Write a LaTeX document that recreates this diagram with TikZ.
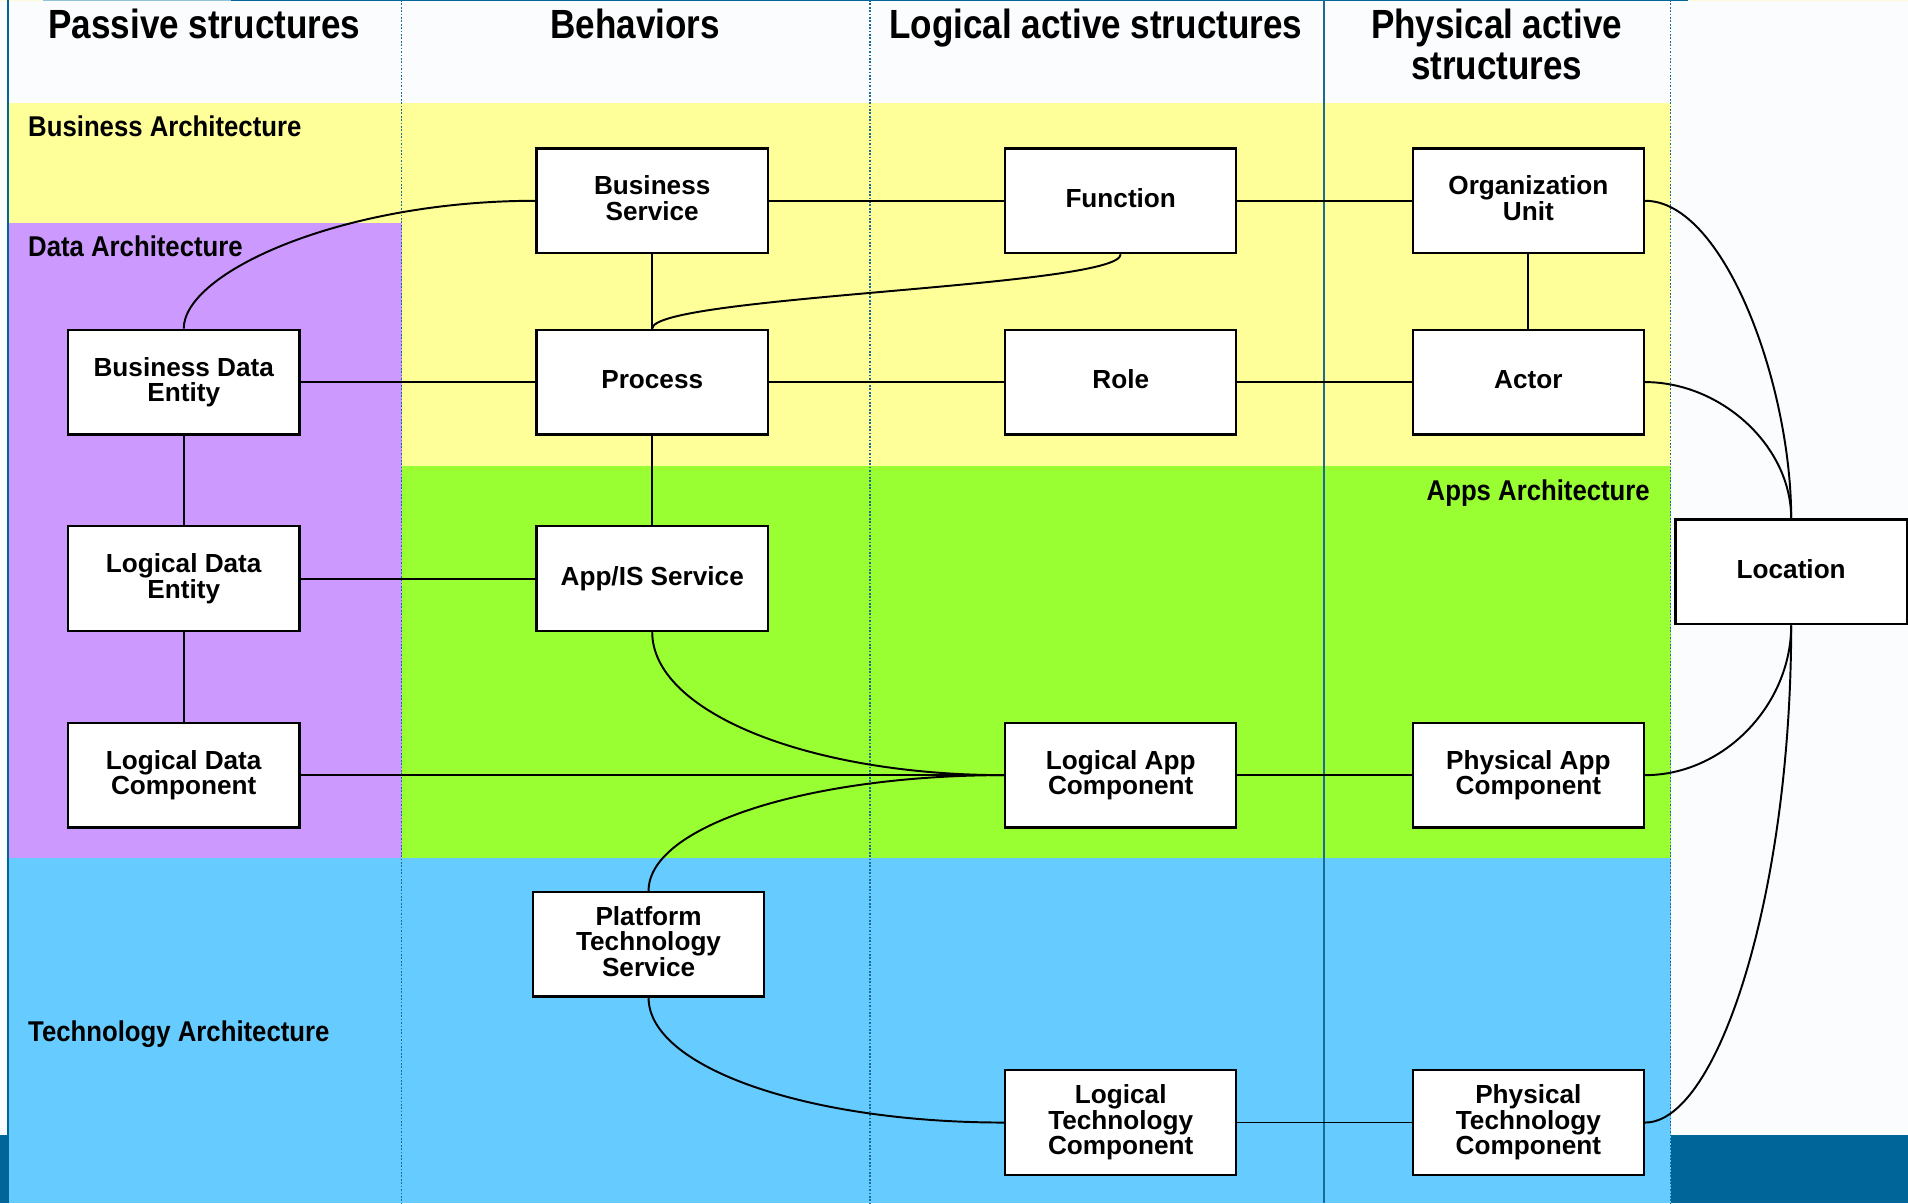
\documentclass[tikz,border=0pt]{standalone}
\usepackage{fontspec}
\setmainfont{Liberation Sans}
\newfontfamily\headfont[FakeStretch=0.86]{Liberation Sans}
\newfontfamily\bandfont[FakeStretch=0.9]{Liberation Sans}
\usetikzlibrary{calc}

\definecolor{pagewhite}{RGB}{251,252,254}
\definecolor{bizyellow}{HTML}{FFFF99}
\definecolor{datapurple}{HTML}{CC99FF}
\definecolor{appgreen}{HTML}{99FF33}
\definecolor{techblue}{HTML}{66CCFF}
\definecolor{slideblue}{HTML}{006699}
\definecolor{paleblue}{HTML}{8FC3D6}
\definecolor{paleyellow}{HTML}{FFFCD9}
\definecolor{gridblue}{HTML}{1A6C94}

\pgfdeclarelayer{bands}
\pgfdeclarelayer{links}
\pgfsetlayers{bands,links,main}

% fixed descender room under the last text line of every element box
\newcommand\boxdepthstrut{\rule[-4.6pt]{0pt}{1pt}}

\tikzset{
  archbox/.style={draw=black, line width=1.9pt, fill=white,
    minimum width=190pt, minimum height=86pt, inner sep=0pt, align=center,
    font=\bfseries\fontsize{21.5}{21}\selectfont,
    execute at end node=\boxdepthstrut},
  link/.style={draw=black, line width=1.5pt},
  curvelink/.style={draw=black, line width=1.6pt},
  colhead/.style={font=\headfont\bfseries\fontsize{33.5}{33.5}\selectfont, inner sep=0pt, anchor=base},
  bandlabel/.style={font=\bandfont\bfseries\fontsize{23.5}{23.5}\selectfont, inner sep=0pt},
  coldots/.style={draw=gridblue, line width=1.2pt, dash pattern=on 1.4pt off 1.4pt},
  colsolid/.style={draw=gridblue, line width=1.5pt}
}

\begin{document}
\begin{tikzpicture}[x=1pt, y=-1pt]
\useasboundingbox (0,0) rectangle (1568,989);

\begin{pgfonlayer}{bands}
% page and slide frame
\fill[pagewhite] (0,0) rectangle (1568,989);
\fill[slideblue] (0,933) rectangle (7.5,989);
\fill[slideblue] (1373,933) rectangle (1568,989);
\fill[paleyellow] (0,0) rectangle (35,1.2);
\fill[paleblue] (35,0) rectangle (190,1.2);
\fill[slideblue] (190,0) rectangle (1387,1.2);
\fill[paleyellow] (1387,0) rectangle (1568,1.2);

% architecture bands
\fill[bizyellow] (6.5,85) rectangle (1373,383);
\fill[datapurple] (6.5,183) rectangle (330,705);
\fill[appgreen] (330,383) rectangle (1373,705);
\fill[techblue] (6.5,705) rectangle (1373,989);

% left frame line and column dividers
\draw[slideblue, line width=1.9pt] (6.5,0) -- (6.5,989);
\draw[coldots] (330,0) -- (330,989);
\draw[coldots] (715,0) -- (715,989);
\draw[colsolid] (1088,0) -- (1088,989);
\draw[coldots] (1373,0) -- (1373,989);
\end{pgfonlayer}

% column headings
\node[colhead] (hpassive) at (168,32) {Passive structures};
\node[colhead] (hbehav) at (522,32) {Behaviors};
\node[colhead] (hlogical) at (900.5,32) {Logical active structures};
\node[colhead] (hphys1) at (1230,32) {Physical active};
\node[colhead] (hphys2) at (1230,65.5) {structures};

% band labels
\node[bandlabel, anchor=base west] (lbiz) at (23,112) {Business Architecture};
\node[bandlabel, anchor=base west] (ldata) at (23,211) {Data Architecture};
\node[bandlabel, anchor=base east] (lapps) at (1356,411) {Apps Architecture};
\node[bandlabel, anchor=base west] (ltech) at (23,855.5) {Technology Architecture};

% elements
\node[archbox] (bs)  at (536,165) {Business\\Service};
\node[archbox] (fn)  at (921,165) {Function};
\node[archbox] (ou)  at (1256,165) {Organization\\Unit};
\node[archbox] (bde) at (151,314) {Business Data\\Entity};
\node[archbox] (pr)  at (536,314) {Process};
\node[archbox] (ro)  at (921,314) {Role};
\node[archbox] (ac)  at (1256,314) {Actor};
\node[archbox] (lde) at (151,475.5) {Logical Data\\Entity};
\node[archbox] (ais) at (536,475.5) {App/IS Service};
\node[archbox] (loc) at (1472,470) {Location};
\node[archbox] (ldc) at (151,637) {Logical Data\\Component};
\node[archbox] (lac) at (921,637) {Logical App\\Component};
\node[archbox] (pac) at (1256,637) {Physical App\\Component};
\node[archbox] (pts) at (533,776) {Platform\\Technology\\Service};
\node[archbox] (ltc) at (921,922.5) {Logical\\Technology\\Component};
\node[archbox] (ptc) at (1256,922.5) {Physical\\Technology\\Component};

\begin{pgfonlayer}{links}
% straight relations
\draw[link] (bs.east) -- (fn.west);
\draw[link] (fn.east) -- (ou.west);
\draw[link] (bs.south) -- (pr.north);
\draw[link] (ou.south) -- (ac.north);
\draw[link] (bde.east) -- (pr.west);
\draw[link] (pr.east) -- (ro.west);
\draw[link] (ro.east) -- (ac.west);
\draw[link] (pr.south) -- (ais.north);
\draw[link] (bde.south) -- (lde.north);
\draw[link] (lde.south) -- (ldc.north);
\draw[link] (lde.east) -- (ais.west);
\draw[link] (ldc.east) -- (lac.west);
\draw[link] (lac.east) -- (pac.west);
\draw[link] (ltc.east) -- (ptc.west);

% curved relations
\draw[curvelink] (bs.west) .. controls +(-160,0) and +(0,-46) .. (bde.north);
\draw[curvelink] (fn.south) .. controls +(0,27) and +(0,-27) .. (pr.north);
\draw[curvelink] (ais.south) .. controls +(0,66) and +(-160,0) .. (lac.west);
\draw[curvelink] (pts.north) .. controls +(0,-53) and +(-162,0) .. (lac.west);
\draw[curvelink] (pts.south) .. controls +(0,57) and +(-162,0) .. (ltc.west);
\draw[curvelink] (ou.east) .. controls +(65,0) and +(0,-110) .. (loc.north);
\draw[curvelink] (ac.east) .. controls +(62,0) and +(0,-60) .. (loc.north);
\draw[curvelink] (loc.south) .. controls +(0,65) and +(65,0) .. (pac.east);
\draw[curvelink] (loc.south) .. controls +(0,220) and +(60,0) .. (ptc.east);
\end{pgfonlayer}
\end{tikzpicture}
\end{document}
